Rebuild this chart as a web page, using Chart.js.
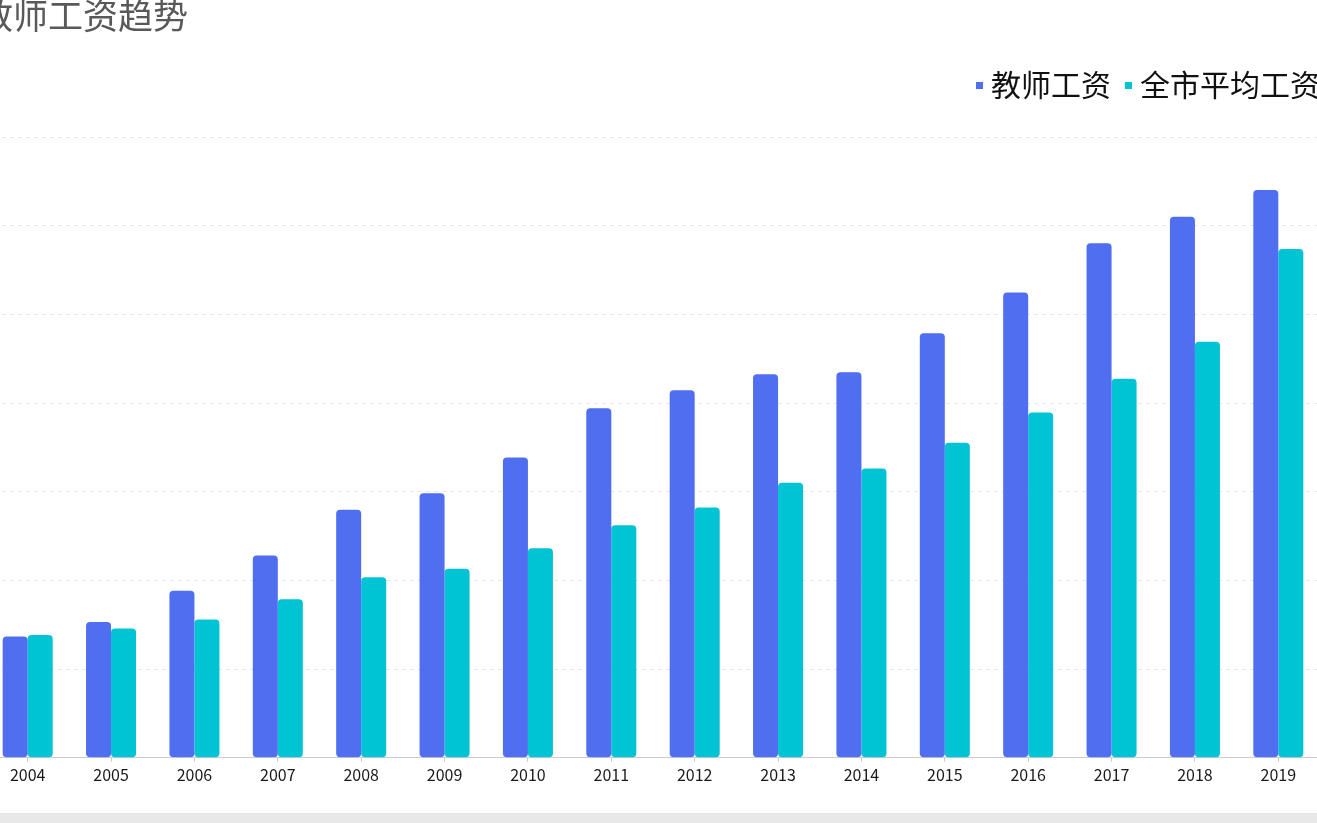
<!DOCTYPE html>
<html>
<head>
<meta charset="utf-8">
<script src="https://cdn.jsdelivr.net/npm/chart.js@4.4.1/dist/chart.umd.min.js"></script>
<style>
    html, body {
        margin: 0;
        padding: 0;
        width: 1317px;
        height: 823px;
        overflow: hidden;
        background: #ffffff;
        font-family: "Noto Sans CJK SC", "Noto Sans", sans-serif;
    }
    #title {
        position: absolute;
        left: -22px;
        top: -4px;
        font-size: 35px;
        line-height: 1;
        color: #595959;
        white-space: nowrap;
    }
    #legend {
        position: absolute;
        left: 976px;
        top: 68px;
        display: flex;
        align-items: center;
        white-space: nowrap;
    }
    .legend-item {
        display: flex;
        align-items: center;
        margin-right: 14px;
        font-size: 30px;
        line-height: 30px;
        color: #111111;
    }
    .legend-box {
        width: 7px;
        height: 7px;
        margin-right: 8px;
        margin-top: 4px;
    }
    #wrap {
        position: absolute;
        left: -14px;
        top: 0;
        width: 1334px;
        height: 813px;
    }
    #bottom-bar {
        position: absolute;
        left: 0;
        top: 813px;
        width: 1317px;
        height: 10px;
        background: #e8e8e8;
    }
</style>
</head>
<body>
<div id="wrap"><canvas id="chart-salario"></canvas></div>
<div id="title">教师工资趋势</div>
<div id="legend"></div>
<div id="bottom-bar"></div>

<script>
// Datos
const years = ['2004', '2005', '2006', '2007', '2008', '2009', '2010', '2011',
    '2012', '2013', '2014', '2015', '2016', '2017', '2018', '2019'];
const teacherSalary = [27350, 30600, 37650, 45600, 55920, 59680, 67710, 78850,
    82910, 86520, 86970, 95760, 104920, 116050, 121990, 128070];
const citySalary = [27670, 29150, 31190, 35780, 40740, 42620, 47280, 52470,
    56440, 62010, 65230, 71030, 77860, 85460, 93800, 114770];
const seriesNames = ['教师工资', '全市平均工资'];
const yTicks = [0, 20000, 40000, 60000, 80000, 100000, 120000, 140000];

const colors = ['#4f6ef0', '#00c4d3'];

let chart = null;

function createChart() {
    const ctx = document.getElementById('chart-salario');

    chart = new Chart(ctx, {
        type: 'bar',
        data: {
            labels: years,
            datasets: [{
                label: seriesNames[0],
                data: teacherSalary,
                backgroundColor: colors[0],
                borderWidth: 0,
                borderRadius: 4,
                borderSkipped: false
            }, {
                label: seriesNames[1],
                data: citySalary,
                backgroundColor: colors[1],
                borderWidth: 0,
                borderRadius: 4,
                borderSkipped: false
            }]
        },
        options: {
            responsive: true,
            maintainAspectRatio: false,
            animation: false,
            datasets: {
                bar: {
                    categoryPercentage: 0.6,
                    barPercentage: 1.0
                }
            },
            layout: {
                padding: { top: 137, left: 0, right: 0, bottom: 24 }
            },
            plugins: {
                legend: { display: false },
                title: { display: false },
                tooltip: { enabled: false }
            },
            scales: {
                x: {
                    grid: {
                        display: true,
                        drawOnChartArea: false,
                        drawTicks: true,
                        tickLength: 4,
                        offset: false,
                        color: '#cccccc'
                    },
                    border: {
                        display: true,
                        color: '#cccccc',
                        width: 1
                    },
                    ticks: {
                        color: '#1a1a1a',
                        padding: 4,
                        font: { family: '"Noto Sans CJK SC", "Noto Sans", sans-serif', size: 16 }
                    }
                },
                y: {
                    min: yTicks[0],
                    max: yTicks[yTicks.length - 1],
                    afterBuildTicks: function(axis) {
                        axis.ticks = yTicks.map(v => ({ value: v }));
                    },
                    ticks: { display: false },
                    grid: {
                        color: '#e6e6e6',
                        drawTicks: false
                    },
                    border: {
                        display: false,
                        dash: [4, 4]
                    }
                }
            }
        }
    });

    // Leyenda HTML generada desde los datasets
    const legend = document.getElementById('legend');
    chart.data.datasets.forEach(function(ds) {
        const item = document.createElement('div');
        item.className = 'legend-item';
        const box = document.createElement('span');
        box.className = 'legend-box';
        box.style.background = ds.backgroundColor;
        const text = document.createElement('span');
        text.textContent = ds.label;
        item.appendChild(box);
        item.appendChild(text);
        legend.appendChild(item);
    });
}

document.addEventListener('DOMContentLoaded', createChart);
</script>
</body>
</html>
